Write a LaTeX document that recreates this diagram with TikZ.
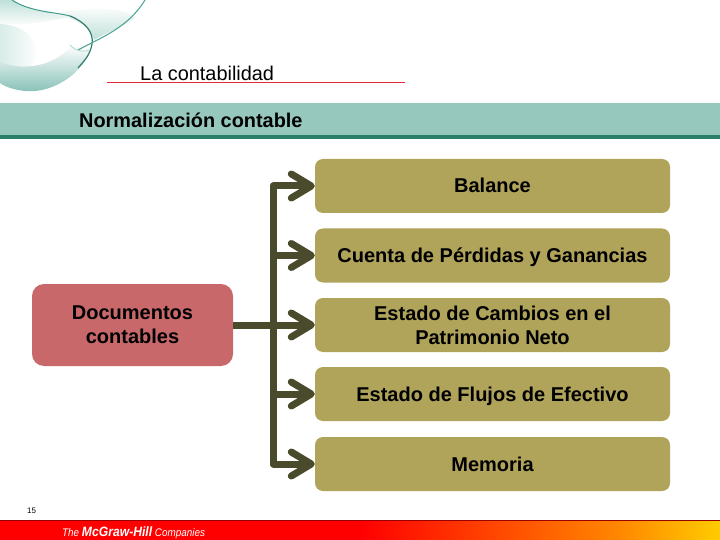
\documentclass[tikz,border=0pt]{standalone}
\usepackage{fontspec}
\setmainfont{Liberation Sans}
\usetikzlibrary{arrows.meta,shadings,calc,fadings}
\definecolor{boxgold}{HTML}{B0A35A}
\definecolor{boxred}{HTML}{C8686A}
\definecolor{linedark}{HTML}{4A4A2C}
\definecolor{bandteal}{HTML}{96C8BE}
\definecolor{banddark}{HTML}{2A7F6A}
\definecolor{swirl}{HTML}{3F9C8C}
\definecolor{swirlpale}{HTML}{BFE0D8}
\definecolor{ruler}{HTML}{E02838}
\definecolor{footorange}{HTML}{FF8800}
\definecolor{footyellow}{HTML}{FFCC00}
\tikzset{
  x=1pt,y=-1pt,
  goldbox/.style={draw=none,fill=boxgold,rounded corners=8pt,minimum width=355pt,minimum height=54pt,anchor=center,align=center,inner sep=0pt},
  redbox/.style={draw=none,fill=boxred,rounded corners=12pt,minimum width=201pt,minimum height=82pt,align=center,inner sep=0pt},
  lbl/.style={font=\fontsize{20}{24}\selectfont\bfseries,text=black},
  oneline/.style={text height=14.3pt,text depth=0.3pt},
  conn/.style={draw=linedark,line width=7pt,-{Straight Barb[length=20pt,width=24pt,line width=7pt,round]}},
  spine/.style={draw=linedark,line width=7pt,line cap=butt},
}
\begin{document}
\begin{tikzpicture}
\useasboundingbox (0,0) rectangle (720,540);
\fill[white] (0,0) rectangle (720,540);
% swirl
\shade[top color=swirlpale,bottom color=white] (0,0) -- (12,0) .. controls (30,12) and (55,12) .. (70,16) .. controls (50,22) and (20,26) .. (0,24) -- cycle;
\shade[top color=white,bottom color=swirlpale] (50,14) .. controls (80,8) and (125,5) .. (135,18) .. controls (120,28) and (105,33) .. (94,40) .. controls (90,25) and (75,18) .. cycle;
\shade[left color=swirlpale!60,right color=white] (0,24) .. controls (25,25) and (40,40) .. (35,60) .. controls (30,72) and (10,78) .. (0,72) -- cycle;
\shade[top color=white,bottom color=swirl!65] (0,62) .. controls (25,72) and (55,65) .. (70,47) .. controls (75,45) and (85,48) .. (90,50) .. controls (85,70) and (55,94) .. (25,91) .. controls (15,90) and (5,87) .. (0,83) -- cycle;
\draw[swirl,line width=1pt] (12,0) .. controls (30,12) and (55,12) .. (70,16);
\draw[swirl!80!black,line width=1.2pt] (70,16) .. controls (85,22) and (94,32) .. (92,44) .. controls (90,55) and (85,60) .. (78,68);
\draw[swirl!90,line width=1.1pt] (78,50) .. controls (100,38) and (128,28) .. (145,0);
\draw[swirl!40,line width=.8pt] (70,45) .. controls (76,52) and (85,52) .. (90,50);
% header
\draw[draw=ruler,line width=1pt] (107,83) -- (405,83);
\node[anchor=base west,inner sep=0pt,font=\fontsize{19.9}{23}\selectfont] (title) at (140,80.5) {La contabilidad};
\fill[bandteal] (0,103) rectangle (720,135);
\fill[banddark] (0,135) rectangle (720,139);
\node[anchor=base west,inner sep=0pt,font=\fontsize{19.9}{23}\selectfont\bfseries] (sub) at (79,128) {Normalización contable};
% boxes
\node[goldbox,lbl,oneline] (b1) at (492.5,186) {Balance};
\node[goldbox,lbl,oneline] (b2) at (492.5,255.5) {Cuenta de Pérdidas y Ganancias};
\node[goldbox,lbl] (b3) at (492.5,325) {Estado de Cambios en el\\Patrimonio Neto};
\node[goldbox,lbl,oneline] (b4) at (492.5,394) {Estado de Flujos de Efectivo};
\node[goldbox,lbl,oneline] (b5) at (492.5,464) {Memoria};
\node[redbox,lbl] (doc) at (132.5,325) {Documentos\\contables};
% connectors
\coordinate (top) at (273,186);
\coordinate (bot) at (273,464);
\draw[spine,line join=round] (bot) ++(3.5,0) -- (bot) -- (top) -- ++(6,0);
\draw[conn] (top) -- (b1.west);
\draw[conn] (top |- b2.west) -- (b2.west);
\draw[conn] (doc.east) -- (b3.west);
\draw[conn] (top |- b4.west) -- (b4.west);
\draw[conn] (bot) -- (b5.west);
% footer
\node[anchor=base west,inner sep=0pt,font=\fontsize{8}{9}\selectfont] (page) at (27,513) {15};
\fill[red] (0,521) rectangle (360,540);
\shade[left color=red,right color=footorange] (360,521) rectangle (620,540);
\shade[left color=footorange,right color=footyellow] (620,521) rectangle (720,540);
\draw[red!60!black,line width=.7pt] (0,520.5) -- (720,520.5);
\node[anchor=base west,inner sep=0pt,text=white,xscale=.9,font=\fontsize{11}{12}\selectfont\itshape] (logo) at (62,536) {The \textbf{\fontsize{13.5}{12}\selectfont McGraw-Hill} Companies};
\end{tikzpicture}
\end{document}
